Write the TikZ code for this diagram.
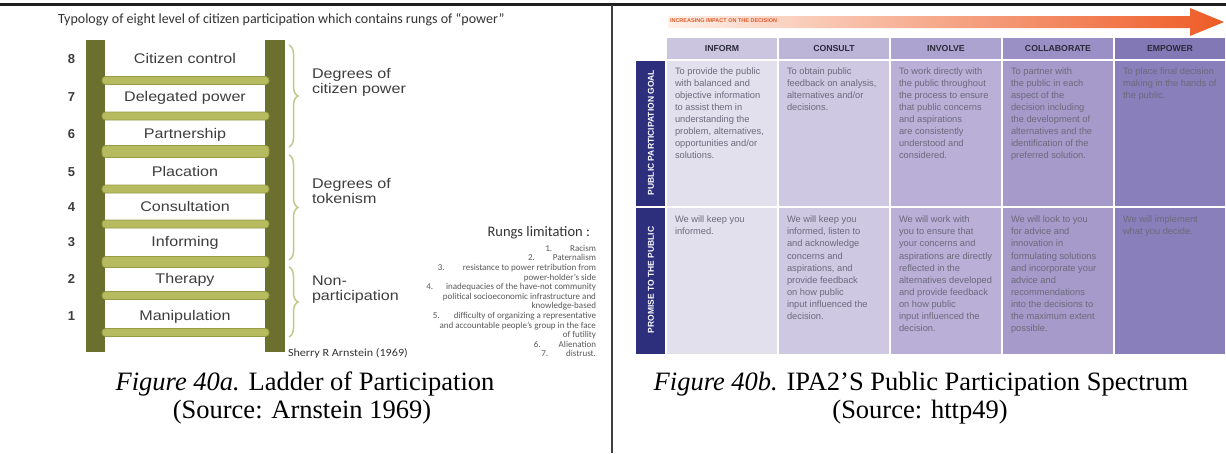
\documentclass[tikz,border=0pt]{standalone}
\usepackage{fontspec}
\setmainfont{Liberation Serif}
\newfontfamily\ladderfont[FakeStretch=1.15]{Liberation Sans}
\newfontfamily\arialfont{Liberation Sans}
\newfontfamily\calfont{Carlito}
\newfontfamily\calwide[FakeStretch=1.1]{Carlito}
\usetikzlibrary{decorations.pathreplacing}

\definecolor{railc}{HTML}{6B702F}
\definecolor{rungc}{HTML}{B6BB60}
\definecolor{rungedge}{HTML}{979C45}
\definecolor{bracec}{HTML}{C3C78A}
\definecolor{ladtext}{HTML}{3E3E3E}
\definecolor{navy}{HTML}{2D2E7C}
\definecolor{hInform}{HTML}{CBC5DF}
\definecolor{bInform}{HTML}{E3E0EE}
\definecolor{hConsult}{HTML}{BDB5D8}
\definecolor{bConsult}{HTML}{CEC8E3}
\definecolor{hInvolve}{HTML}{ADA3D0}
\definecolor{bInvolve}{HTML}{B9AFD7}
\definecolor{hCollab}{HTML}{9B90C5}
\definecolor{bCollab}{HTML}{A59ACA}
\definecolor{hEmpower}{HTML}{8278B5}
\definecolor{bEmpower}{HTML}{897FBA}
\definecolor{celltext}{HTML}{6C6A7C}
\definecolor{headtext}{HTML}{2B2A3A}
\definecolor{arrowL}{HTML}{FDF1EA}
\definecolor{arrowR}{HTML}{EE5B25}
\definecolor{arrowtext}{HTML}{E0592A}
\definecolor{frameline}{HTML}{1E1E1E}

\begin{document}
\begin{tikzpicture}[x=1pt,y=-1pt,
  every node/.style={inner sep=0pt, outer sep=0pt},
  ladlabel/.style={font=\ladderfont\fontsize{14}{16}\selectfont, text=ladtext, anchor=base},
  rungnum/.style={font=\arialfont\bfseries\fontsize{13}{15}\selectfont, text=ladtext, anchor=base},
  grouplabel/.style={font=\ladderfont\fontsize{14}{15}\selectfont, text=ladtext, align=left, anchor=base west},
  rail/.style={fill=railc},
  rungbar/.style={fill=rungc, draw=rungedge, line width=0.7pt},
  bracket/.style={draw=bracec, line width=1.5pt, decorate, decoration={brace, amplitude=9pt}},
  limitline/.style={font=\calfont\fontsize{9}{10}\selectfont, text=black!65, anchor=base east},
  colhead/.style={font=\arialfont\bfseries\fontsize{8.7}{10}\selectfont, text=headtext},
  celltxt/.style={font=\arialfont\fontsize{9.3}{12.1}\selectfont, text=celltext, align=left, anchor=north west},
  sidelabel/.style={font=\arialfont\bfseries\fontsize{8.5}{10}\selectfont, text=white, rotate=90},
  caption/.style={font=\fontsize{26.5}{28}\selectfont, anchor=base}
]
\useasboundingbox (0,0) rectangle (1226,453);
\fill[white] (0,0) rectangle (1226,453);

% frame lines
\draw[frameline, line width=2.5pt] (0,4.5) -- (1226,4.5);
\draw[black!75, line width=2pt] (612,5) -- (612,453);

% ---------------- ladder ----------------
\node[font=\calfont\fontsize{14}{16}\selectfont, text=black!80, anchor=base west] (title) at (58,23)
  {Typology of eight level of citizen participation which contains rungs of “power”};

\fill[rail] (86,40) rectangle (105,352);
\fill[rail] (265,40) rectangle (285,352);
\foreach \yc/\h in {80.5/8, 116/8, 151.5/12, 189/8, 224/8, 262/11, 295.5/8, 332.5/8}
  \draw[rungbar, rounded corners=3.5pt] (102,{\yc-\h/2}) rectangle (269,{\yc+\h/2});

\node[ladlabel] (r8) at (185,63)    {Citizen control};
\node[ladlabel] (r7) at (185,101.5) {Delegated power};
\node[ladlabel] (r6) at (185,138)   {Partnership};
\node[ladlabel] (r5) at (185,176.5) {Placation};
\node[ladlabel] (r4) at (185,211.5) {Consultation};
\node[ladlabel] (r3) at (185,246.5) {Informing};
\node[ladlabel] (r2) at (185,283)   {Therapy};
\node[ladlabel] (r1) at (185,320)   {Manipulation};

\foreach \n/\yb in {8/63, 7/101.5, 6/138, 5/176.5, 4/211.5, 3/246.5, 2/283, 1/320}
  \node[rungnum] (n\n) at (71.5,\yb) {\n};

\draw[bracket] (289,45) -- (289,147);
\draw[bracket] (289,155) -- (289,260);
\draw[bracket] (289,267) -- (289,337);

\node[grouplabel] (g3) at (312,93)  {Degrees of\\citizen power};
\node[grouplabel] (g2) at (312,203) {Degrees of\\tokenism};
\node[grouplabel] (g1) at (312,300) {Non-\\participation};

\node[font=\calwide\fontsize{11}{12}\selectfont, text=black!80, anchor=base west] (author) at (288,356)
  {Sherry R Arnstein (1969)};

\node[font=\calfont\fontsize{14.5}{16}\selectfont, text=black!80, anchor=base east] (rungs) at (590,236)
  {Rungs limitation :};
\node[limitline] (lim1)  at (596,251.1) {1.\hspace{18pt}Racism};
\node[limitline] (lim2)  at (596,260.5) {2.\hspace{18pt}Paternalism};
\node[limitline] (lim3)  at (596,270.1) {3.\hspace{18pt}resistance to power retribution from};
\node[limitline] (lim3b) at (596,280.1) {power-holder’s side};
\node[limitline] (lim4)  at (596,289.5) {4.\hspace{13pt}inadequacies of the have-not community};
\node[limitline] (lim4b) at (596,299.5) {political socioeconomic infrastructure and};
\node[limitline] (lim4c) at (596,308.8) {knowledge-based};
\node[limitline] (lim5)  at (596,318.8) {5.\hspace{14pt}difficulty of organizing a representative};
\node[limitline] (lim5b) at (596,328.5) {and accountable people’s group in the face};
\node[limitline] (lim5c) at (596,337.8) {of futility};
\node[limitline] (lim6)  at (596,347.5) {6.\hspace{18pt}Alienation};
\node[limitline] (lim7)  at (596,356.8) {7.\hspace{18pt}distrust.};

\node[caption] (capa1) at (305,390) {\textit{Figure 40a.} Ladder of Participation};
\node[caption] (capa2) at (302,418) {(Source: Arnstein 1969)};

% ---------------- spectrum ----------------
\shade[left color=arrowL, right color=arrowR]
  (668,16) -- (1190,16) -- (1190,8) -- (1224,22) -- (1190,36) -- (1190,28) -- (668,28) -- cycle;
\node[font=\arialfont\bfseries\fontsize{5.5}{6}\selectfont, text=arrowtext, anchor=west] (impact) at (670,20.5)
  {INCREASING IMPACT ON THE DECISION};

% column cells: header, goal row, promise row
\foreach \k/\hc/\bc in {0/hInform/bInform, 1/hConsult/bConsult, 2/hInvolve/bInvolve, 3/hCollab/bCollab, 4/hEmpower/bEmpower}{
  \fill[\hc] ({667+112*\k},38) rectangle ({777+112*\k},59);
  \fill[\bc] ({667+112*\k},61) rectangle ({777+112*\k},206);
  \fill[\bc] ({667+112*\k},208) rectangle ({777+112*\k},354);
}
\fill[navy] (636,61) rectangle (665,206);
\fill[navy] (636,208) rectangle (665,354);

\node[sidelabel] (goal) at (651,132.5) {PUBLIC PARTICIPATION GOAL};
\node[sidelabel] (promise) at (651,280) {PROMISE TO THE PUBLIC};

\node[colhead] (hinf) at (722,48.5)  {INFORM};
\node[colhead] (hcon) at (834,48.5)  {CONSULT};
\node[colhead] (hinv) at (946,48.5)  {INVOLVE};
\node[colhead] (hcol) at (1058,48.5) {COLLABORATE};
\node[colhead] (hemp) at (1170,48.5) {EMPOWER};

\node[celltxt] (ginf) at (675,67.4) {To provide the public\\with balanced and\\objective information\\to assist them in\\understanding the\\problem, alternatives,\\opportunities and/or\\solutions.};
\node[celltxt] (gcon) at (787,67.4) {To obtain public\\feedback on analysis,\\alternatives and/or\\decisions.};
\node[celltxt] (ginv) at (899,67.4) {To work directly with\\the public throughout\\the process to ensure\\that public concerns\\and aspirations\\are consistently\\understood and\\considered.};
\node[celltxt] (gcol) at (1011,67.4) {To partner with\\the public in each\\aspect of the\\decision including\\the development of\\alternatives and the\\identification of the\\preferred solution.};
\node[celltxt] (gemp) at (1123,67.4) {To place final decision\\making in the hands of\\the public.};

\node[celltxt] (pinf) at (675,216) {We will keep you\\informed.};
\node[celltxt] (pcon) at (787,216) {We will keep you\\informed, listen to\\and acknowledge\\concerns and\\aspirations, and\\provide feedback\\on how public\\input influenced the\\decision.};
\node[celltxt] (pinv) at (899,216) {We will work with\\you to ensure that\\your concerns and\\aspirations are directly\\reflected in the\\alternatives developed\\and provide feedback\\on how public\\input influenced the\\decision.};
\node[celltxt] (pcol) at (1011,216) {We will look to you\\for advice and\\innovation in\\formulating solutions\\and incorporate your\\advice and\\recommendations\\into the decisions to\\the maximum extent\\possible.};
\node[celltxt] (pemp) at (1123,216) {We will implement\\what you decide.};

\node[caption] (capb1) at (921,390) {\textit{Figure 40b.} IPA2’S Public Participation Spectrum};
\node[caption] (capb2) at (920,418) {(Source: http49)};
\end{tikzpicture}
\end{document}
